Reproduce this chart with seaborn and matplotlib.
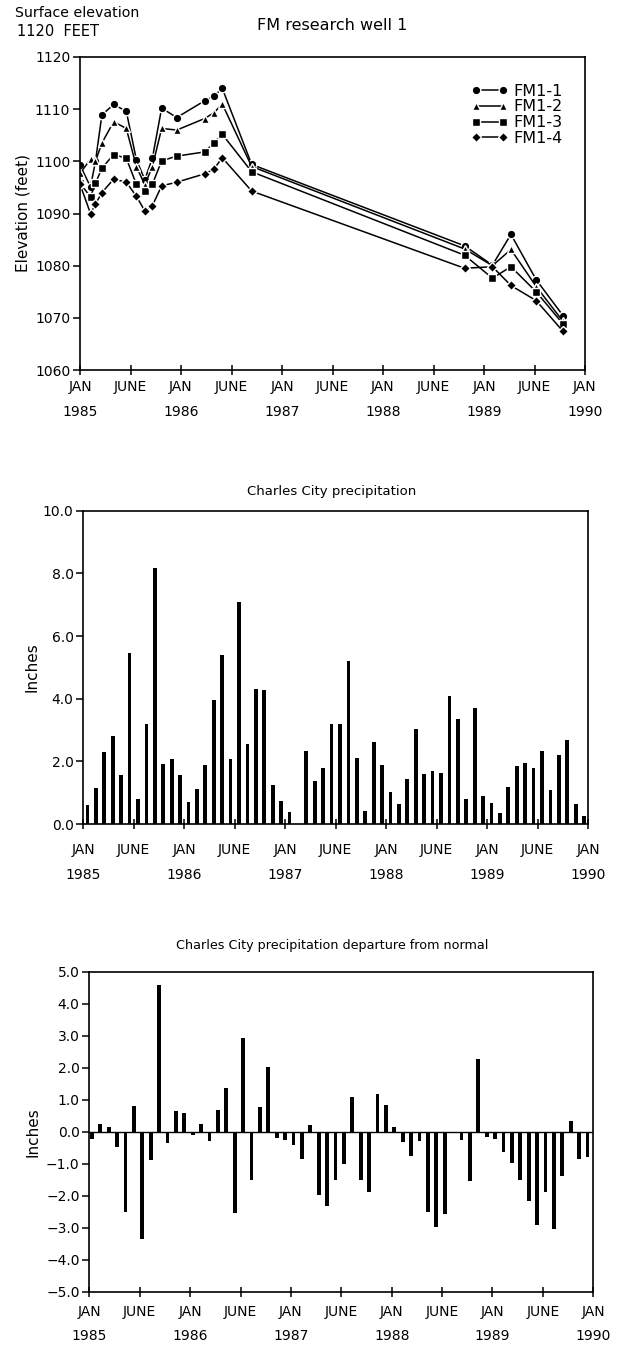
import numpy as np
import pandas as pd
import matplotlib
matplotlib.use("Agg")
import matplotlib.pyplot as plt
import seaborn as sns

# ---------------- data ----------------
# measurement dates, months since JAN 1985
well_months = [0.0, 1.25, 1.84, 2.6, 4.0, 5.5, 6.7, 7.7, 8.6, 9.7, 11.5,
               14.8, 15.9, 16.9, 20.4, 45.7, 49.0, 51.2, 54.2, 57.4]
fm1_1 = [1099.3, 1095.1, 1100.0, 1108.9, 1110.9, 1109.6, 1100.3, 1096.5, 1100.6, 1110.2,
         1108.4, 1111.6, 1112.5, 1114.0, 1099.4, 1083.8, 1080.1, 1086.0, 1077.3, 1070.4]
fm1_2 = [1097.7, 1100.4, 1100.0, 1103.5, 1107.6, 1106.3, 1099.0, 1095.5, 1099.0, 1106.3,
         1106.0, 1108.2, 1109.3, 1111.0, 1099.0, 1083.2, 1080.0, 1083.1, 1076.0, 1069.3]
fm1_3 = [1095.8, 1093.2, 1095.8, 1098.7, 1101.3, 1100.6, 1095.6, 1094.3, 1095.6, 1100.1,
         1101.0, 1101.8, 1103.5, 1105.2, 1098.0, 1082.0, 1077.6, 1079.8, 1075.0, 1068.8]
fm1_4 = [1095.6, 1090.0, 1091.8, 1094.0, 1096.6, 1096.0, 1093.3, 1090.5, 1091.5, 1095.3,
         1096.0, 1097.6, 1098.5, 1100.7, 1094.3, 1079.5, 1079.8, 1076.2, 1073.3, 1067.4]
well_names = ["FM1-1", "FM1-2", "FM1-3", "FM1-4"]
well_markers = ["o", "^", "s", "D"]
well_msize = [6.2, 6.4, 6.0, 5.0]

# monthly precipitation, JAN 1985 .. DEC 1989 (inches)
precip = [0.61, 1.14, 2.29, 2.82, 1.56, 5.45, 0.81, 3.19, 8.18, 1.93, 2.07, 1.56,
          0.71, 1.12, 1.87, 3.97, 5.41, 2.07, 7.10, 2.54, 4.30, 4.27, 1.23, 0.73,
          0.39, 0.00, 2.33, 1.38, 1.79, 3.18, 3.19, 5.20, 2.12, 0.43, 2.61, 1.87,
          1.01, 0.63, 1.43, 3.03, 1.60, 1.70, 1.62, 4.10, 3.34, 0.81, 3.71, 0.89,
          0.66, 0.34, 1.19, 1.84, 1.95, 1.78, 2.32, 1.09, 2.21, 2.68, 0.63, 0.26]
# departure from normal (inches)
departure = [-0.23, 0.24, 0.16, -0.47, -2.50, 0.81, -3.36, -0.89, 4.58, -0.36, 0.66, 0.57,
             -0.11, 0.23, -0.28, 0.68, 1.38, -2.55, 2.92, -1.51, 0.78, 2.01, -0.21, -0.26,
             -0.40, -0.86, 0.21, -1.98, -2.32, -1.51, -1.01, 1.07, -1.51, -1.88, 1.18, 0.85,
             0.16, -0.31, -0.76, -0.29, -2.50, -2.99, -2.58, -0.05, -0.26, -1.54, 2.27, -0.16,
             -0.23, -0.63, -0.99, -1.51, -2.16, -2.90, -1.88, -3.05, -1.39, 0.33, -0.85, -0.80]
month_index = np.arange(len(precip))

tick_months = [0, 6, 12, 18, 24, 30, 36, 42, 48, 54, 60]
tick_labels = ["JAN\n1985", "JUNE", "JAN\n1986", "JUNE", "JAN\n1987", "JUNE",
               "JAN\n1988", "JUNE", "JAN\n1989", "JUNE", "JAN\n1990"]

# ---------------- style ----------------
sns.set_theme(style="ticks")
plt.rcParams["font.family"] = ["DejaVu Sans"]
plt.rcParams["axes.linewidth"] = 1.2
plt.rcParams["xtick.major.width"] = 1.1
plt.rcParams["ytick.major.width"] = 1.1
plt.rcParams["text.color"] = "black"
plt.rcParams["axes.labelcolor"] = "black"
plt.rcParams["xtick.color"] = "black"
plt.rcParams["ytick.color"] = "black"

W, H = 621, 1346
fig = plt.figure(figsize=(W / 100, H / 100), dpi=100)
fig.patch.set_facecolor("white")


def box(l, t, r, b):
    return [l / W, 1 - b / H, (r - l) / W, (b - t) / H]


ax1 = fig.add_axes(box(80, 57, 585, 370))
ax2 = fig.add_axes(box(83.3, 510.7, 588.3, 824))
ax3 = fig.add_axes(box(89.3, 971.7, 593.3, 1291.7))

FS = 10


def style_x(ax, pad, ls=2.0):
    ax.set_xlim(0, 60)
    ax.set_xticks(tick_months)
    ax.set_xticklabels(tick_labels, fontsize=FS, linespacing=ls)
    ax.tick_params(axis="x", direction="inout", length=7, pad=pad)
    ax.tick_params(axis="y", direction="out", length=5, pad=2, labelsize=FS)
    ax.set_xlabel("")
    for s in ax.spines.values():
        s.set_color("black")
        s.set_linewidth(1.2)
    ax.set_facecolor("white")


# ---------------- top: well levels ----------------
series = [fm1_1, fm1_2, fm1_3, fm1_4]
for name, vals, mk, ms in zip(well_names, series, well_markers, well_msize):
    df = pd.DataFrame({"month": well_months, "elev": vals})
    sns.lineplot(data=df, x="month", y="elev", ax=ax1, color="black", lw=1.1,
                 marker=mk, markersize=ms, markeredgecolor="white", markeredgewidth=1.0,
                 markerfacecolor="black", label=name, sort=False)
ax1.set_ylim(1060, 1120)
ax1.set_yticks([1060, 1070, 1080, 1090, 1100, 1110, 1120])
style_x(ax1, 3.5)
ax1.set_ylabel("Elevation (feet)", fontsize=11)
ax1.yaxis.set_label_coords(-0.099, 0.5)
leg = ax1.legend(loc="upper right", bbox_to_anchor=(0.956, 0.915), frameon=False,
                 numpoints=2, handlelength=2.3, handletextpad=0.35,
                 labelspacing=0.05, fontsize=11.5, borderaxespad=0, borderpad=0)
fig.text(332 / W, 1 - 25 / H, "FM research well 1", ha="center", va="center", fontsize=11.5)
fig.text(15 / W, 1 - 13 / H, "Surface elevation", ha="left", va="center", fontsize=10.2)
fig.text(17 / W, 1 - 32 / H, "1120  FEET", ha="left", va="center", fontsize=10.5)

# ---------------- middle: precipitation ----------------
dfp = pd.DataFrame({"month": month_index + 0.5, "inches": precip})
sns.barplot(data=dfp, x="month", y="inches", ax=ax2, native_scale=True,
            color="black", width=0.45, errorbar=None, linewidth=0, saturation=1)
ax2.set_ylim(0, 10)
ax2.set_yticks([0, 2, 4, 6, 8, 10])
ax2.set_yticklabels([f"{v:.1f}" for v in [0, 2, 4, 6, 8, 10]])
style_x(ax2, 10.5)
ax2.set_ylabel("Inches", fontsize=11)
ax2.yaxis.set_label_coords(-0.087, 0.5)
fig.text(332 / W, 1 - 491 / H, "Charles City precipitation", ha="center", va="center", fontsize=9.5)

# ---------------- bottom: departure ----------------
dfd = pd.DataFrame({"month": month_index + 0.3, "dep": departure})
sns.barplot(data=dfd, x="month", y="dep", ax=ax3, native_scale=True,
            color="black", width=0.45, errorbar=None, linewidth=0, saturation=1)
ax3.axhline(0, color="black", lw=1.0, zorder=0)
ax3.set_ylim(-5, 5)
yt = [-5, -4, -3, -2, -1, 0, 1, 2, 3, 4, 5]
ax3.set_yticks(yt)
ax3.set_yticklabels([f"{v:.1f}".replace("-", "\u2212") for v in yt])
style_x(ax3, 6, ls=1.9)
ax3.set_ylabel("Inches", fontsize=11)
ax3.yaxis.set_label_coords(-0.096, 0.5)
fig.text(332 / W, 1 - 945 / H, "Charles City precipitation departure from normal",
         ha="center", va="center", fontsize=9.2)

fig.savefig("out.png", dpi=100, facecolor="white")
